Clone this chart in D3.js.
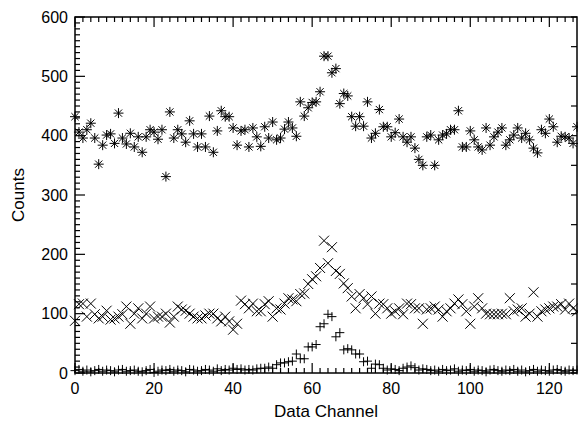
<!DOCTYPE html>
<html>
<head>
<meta charset="utf-8">
<script src="https://cdn.jsdelivr.net/npm/d3@7"></script>
<style>
  body { margin: 0; background: #fff; }
  svg { display: block; }
  svg text { font-family: "Liberation Sans", Arial, sans-serif; fill: #000; }
</style>
</head>
<body>
<div id="chart"></div>
<script>
// three channel spectra, 128 channels each
var starCounts = [432,406,396,410,421,396,352,384,401,403,387,438,396,386,404,381,398,372,398,410,
    406,394,410,331,440,396,410,403,389,425,403,381,403,381,433,372,408,442,432,432,
    413,384,408,410,381,413,398,382,415,396,423,393,396,411,423,413,399,457,433,447,
    456,457,474,534,534,506,513,454,471,467,432,416,432,416,457,396,404,444,415,415,
    398,405,428,398,389,398,379,360,350,398,401,350,393,401,403,410,410,442,381,381,
    408,393,381,376,413,384,398,406,413,384,393,401,413,396,404,393,379,371,410,404,
    428,415,389,399,398,396,387,415];
var crossCounts = [88,116,117,95,117,99,92,95,105,90,92,95,99,112,83,100,109,92,100,112,
    92,95,95,100,85,95,112,107,105,100,95,92,92,97,100,100,92,87,95,87,
    73,83,122,116,109,117,104,104,116,121,95,109,107,117,126,124,121,133,134,150,
    158,163,177,223,185,212,172,167,151,143,129,109,133,126,116,129,100,117,116,109,
    100,104,109,99,117,116,109,109,83,107,109,112,107,95,104,109,117,124,116,104,
    83,112,126,109,100,99,99,99,100,99,126,104,107,109,95,100,136,95,104,107,
    109,112,112,116,107,117,109,104];
var plusCounts = [4,6,3,5,2,4,6,3,5,4,2,5,6,3,4,5,3,2,4,6,1,3,5,4,6,3,5,4,2,6,
    5,3,4,6,5,3,7,4,6,5,8,6,7,5,6,5,7,8,8,10,8,14,17,17,19,20,32,24,24,44,
    44,48,78,83,99,95,61,68,39,41,39,32,32,19,20,8,15,14,8,5,7,
    6,4,8,10,12,9,5,7,6,4,5,3,6,4,5,7,3,5,4,6,3,5,4,2,5,6,4,3,5,4,6,3,5,2,4,6,3,5,4,3,5,6,4,3,5,4,5];

var xTickValues = [0, 20, 40, 60, 80, 100, 120];
var yTickValues = [0, 100, 200, 300, 400, 500, 600];

var width = 578, height = 426;
var plotLeft = 75, plotRight = 577, plotTop = 17, plotBottom = 373;

var svg = d3.select("#chart").append("svg")
    .attr("width", width)
    .attr("height", height);

var x = d3.scaleLinear().domain([0, 127]).range([plotLeft, plotRight]);
var y = d3.scaleLinear().domain([0, 600]).range([plotBottom, plotTop]);

var g = svg.append("g");

// plot box
g.append("rect")
    .attr("x", plotLeft).attr("y", plotTop)
    .attr("width", plotRight - plotLeft).attr("height", plotBottom - plotTop)
    .attr("fill", "none").attr("stroke", "#000").attr("stroke-width", 1.5);

// ticks - bottom and top
function tickLen(v, major) { return (v % major == 0) ? 10 : 5; }
d3.range(0, 128, 2).forEach(function (v) {
    var len = tickLen(v, 20);
    g.append("line").attr("x1", x(v)).attr("x2", x(v))
        .attr("y1", plotBottom).attr("y2", plotBottom - len)
        .attr("stroke", "#000").attr("stroke-width", 1.2);
    g.append("line").attr("x1", x(v)).attr("x2", x(v))
        .attr("y1", plotTop).attr("y2", plotTop + len)
        .attr("stroke", "#000").attr("stroke-width", 1.2);
});

// left axis ticks every 10
d3.range(0, 601, 10).forEach(function (v) {
    var len = tickLen(v, 100);
    g.append("line").attr("x1", plotLeft).attr("x2", plotLeft + len)
        .attr("y1", y(v)).attr("y2", y(v))
        .attr("stroke", "#000").attr("stroke-width", 1.2);
});
// right axis ticks every 50
d3.range(0, 601, 50).forEach(function (v) {
    g.append("line").attr("x1", plotRight).attr("x2", plotRight - 6)
        .attr("y1", y(v)).attr("y2", y(v))
        .attr("stroke", "#000").attr("stroke-width", 1.2);
});

// tick labels
g.selectAll(".xlab").data(xTickValues).enter().append("text")
    .attr("x", function (d) { return x(d); })
    .attr("y", plotBottom + 21)
    .attr("text-anchor", "middle")
    .style("font-size", "16px")
    .text(function (d) { return d; });

g.selectAll(".ylab").data(yTickValues).enter().append("text")
    .attr("x", plotLeft - 7)
    .attr("y", function (d) { return y(d); })
    .attr("dy", "0.35em")
    .attr("text-anchor", "end")
    .style("font-size", "16px")
    .text(function (d) { return d; });

// axis titles
svg.append("text")
    .attr("x", (plotLeft + plotRight) / 2)
    .attr("y", 417)
    .attr("text-anchor", "middle")
    .style("font-size", "17px")
    .text("Data Channel");

svg.append("text")
    .attr("transform", "translate(24," + ((plotTop + plotBottom) / 2) + ") rotate(-90)")
    .attr("text-anchor", "middle")
    .style("font-size", "17px")
    .text("Counts");

// symbols
var marks = svg.append("g").attr("stroke", "#000").attr("stroke-width", 1).attr("fill", "none");

function starPath(s) {
    var d = s * 0.72;
    return "M0," + (-s) + "L0," + s + "M" + (-s) + ",0L" + s + ",0" +
        "M" + (-d) + "," + (-d) + "L" + d + "," + d + "M" + (-d) + "," + d + "L" + d + "," + (-d);
}
function crossPath(s) {
    return "M" + (-s) + "," + (-s) + "L" + s + "," + s + "M" + (-s) + "," + s + "L" + s + "," + (-s);
}
function plusPath(s) {
    return "M0," + (-s) + "L0," + s + "M" + (-s) + ",0L" + s + ",0";
}

marks.selectAll(".star").data(starCounts).enter().append("path")
    .attr("d", starPath(5))
    .attr("transform", function (d, i) { return "translate(" + x(i) + "," + y(d) + ")"; });

marks.selectAll(".cross").data(crossCounts).enter().append("path")
    .attr("d", crossPath(5))
    .attr("transform", function (d, i) { return "translate(" + x(i) + "," + y(d) + ")"; });

marks.selectAll(".plus").data(plusCounts).enter().append("path")
    .attr("d", plusPath(4.5))
    .attr("transform", function (d, i) { return "translate(" + x(i) + "," + y(d) + ")"; });
</script>
</body>
</html>
